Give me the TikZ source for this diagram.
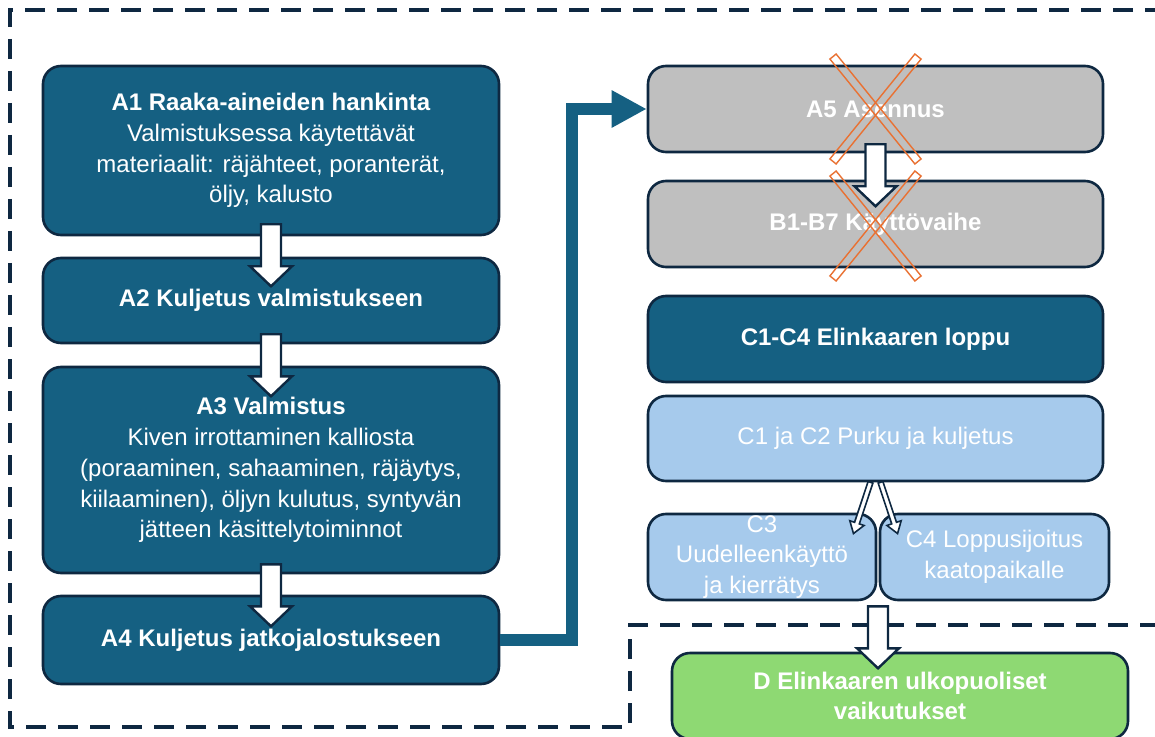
\documentclass[tikz,border=0pt]{standalone}
\usepackage{fontspec}
\setmainfont{Liberation Sans}
\usetikzlibrary{arrows.meta,calc}
\definecolor{teal1}{HTML}{156082}
\definecolor{navy}{HTML}{0E2841}
\definecolor{grayb}{HTML}{BFBFBF}
\definecolor{lblue}{HTML}{A6CAEC}
\definecolor{lgreen}{HTML}{8ED973}
\definecolor{orng}{HTML}{E97132}
\begin{document}
\begin{tikzpicture}[x=0.5pt,y=-0.5pt,
  box/.style={draw=navy, line width=1.3pt, rounded corners=9pt, text=white, align=center, inner sep=0pt, font=\fontsize{12}{15.4}\selectfont},
  darkbox/.style={box, fill=teal1},
  graybox/.style={box, fill=grayb},
  bluebox/.style={box, fill=lblue},
  greenbox/.style={box, fill=lgreen},
  wide/.style={minimum width=228pt},
  barstyle/.style={draw=navy, fill=white, line width=1.2pt, line join=miter},
  thinstyle/.style={draw=navy, fill=white, line width=0.8pt, line join=miter},
  xbar/.style={draw=orng, line width=0.7pt, minimum width=67.5pt, minimum height=4pt, inner sep=0pt},
  conn/.style={draw=teal1, line width=6pt, line join=miter, -{Triangle[length=17.5pt,width=17.5pt]}},
  border/.style={draw=navy, line width=2pt, dash pattern=on 10pt off 6pt},
  pics/barrow/.style={code={
    \draw[barstyle] (-10,0) -- (-10,42) -- (-21,42) -- (0,62) -- (21,42) -- (10,42) -- (10,0) -- cycle;}},
  pics/thinarrow/.style={code={
    \draw[thinstyle] (-2.5,0) -- (-2.5,43) -- (-7.5,43) -- (0,54) -- (7.5,43) -- (2.5,43) -- (2.5,0) -- cycle;}}
]
\clip (0,0) rectangle (1155,737);
\fill[white] (0,0) rectangle (1155,737);

% dashed system boundary
\draw[border] (1165,10) -- (10,10) -- (10,727) -- (630,727) -- (630,625) -- (1165,625);

% left column
\node[darkbox, wide, minimum height=84.5pt] (A1) at (271,150.5)
  {\textbf{A1 Raaka-aineiden hankinta}\\Valmistuksessa käytettävät\\materiaalit: räjähteet, poranterät,\\öljy, kalusto};
\node[darkbox, wide, minimum height=42.5pt] (A2) at (271,300.5)
  {\textbf{A2 Kuljetus valmistukseen}};
\node[darkbox, wide, minimum height=103pt] (A3) at (271,470)
  {\textbf{A3 Valmistus}\\Kiven irrottaminen kalliosta\\(poraaminen, sahaaminen, räjäytys,\\kiilaaminen), öljyn kulutus, syntyvän\\jätteen käsittelytoiminnot};
\node[darkbox, wide, minimum height=44pt] (A4) at (271,640)
  {\textbf{A4 Kuljetus jatkojalostukseen}};

% right column
\node[graybox, minimum width=227.5pt, minimum height=43pt] (A5) at (875.5,109)
  {\textbf{A5 Asennus}};
\node[graybox, minimum width=227.5pt, minimum height=43pt] (B) at (875.5,224)
  {\textbf{B1-B7 Käyttövaihe}};
\node[darkbox, minimum width=227.5pt, minimum height=43pt] (C) at (875.5,339)
  {\textbf{C1-C4 Elinkaaren loppu}};
\node[bluebox, minimum width=227.5pt, minimum height=42.5pt] (C12) at (875.5,438.5)
  {C1 ja C2 Purku ja kuljetus};
\node[bluebox, minimum width=114pt, minimum height=43pt] (C3) at (762,557)
  {C3\\Uudelleenkäyttö\\ja kierrätys};
\node[bluebox, minimum width=114.5pt, minimum height=43pt] (C4) at (994.5,557)
  {C4 Loppusijoitus\\kaatopaikalle};
\node[greenbox, wide, minimum height=43pt] (D) at (900,696)
  {\textbf{D Elinkaaren ulkopuoliset}\\\textbf{vaikutukset}};

% connector A4 -> A5
\draw[conn] (A4.east) -| ($(A5.west)+(-75,0)$) -- (A5.west);

% block arrows
\pic at ($(A1.south)+(0,-12)$) {barrow};
\pic at ($(A2.south)+(0,-10)$) {barrow};
\pic at ($(A3.south)+(0,-10)$) {barrow};
\pic at ($(A5.south)+(0,-9)$) {barrow};
\pic[rotate=-18.4] at ($(C12.south)+(-5,0)$) {thinarrow};
\pic[rotate=18.4] at ($(C12.south)+(5,0)$) {thinarrow};
\pic at ($(C3.south east)!0.5!(C4.south west)+(0,5)$) {barrow};

% crossed-out stages
\node[xbar, rotate=51] (x1a) at (A5.center) {};
\node[xbar, rotate=-51] (x1b) at (A5.center) {};
\node[xbar, rotate=51] (x2a) at ($(B.center)+(0,2)$) {};
\node[xbar, rotate=-51] (x2b) at ($(B.center)+(0,2)$) {};
\end{tikzpicture}
\end{document}
